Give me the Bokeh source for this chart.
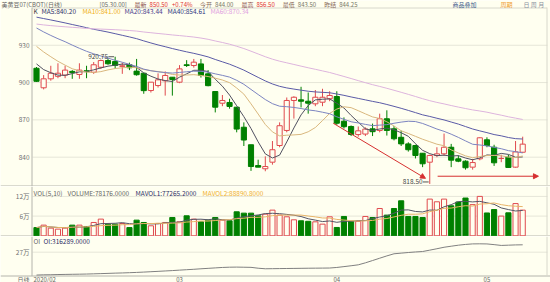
import numpy as np
import pandas as pd
from bokeh.plotting import figure
from bokeh.layouts import column
from bokeh.models import Range1d, Label, Arrow, NormalHead
from bokeh.core.properties import value
from bokeh.embed import file_html
from bokeh.resources import INLINE

# ---- CBOT soybean (July contract), daily bars Feb - May 2020 ----
opens = [911.5, 895.8, 903.0, 905.0, 906.0, 909.0, 906.5, 909.5, 908.3, 912.3,
         917.7, 917.0, 913.0, 914.3, 909.2, 907.5, 893.6, 897.6, 901.4, 904.3,
         900.3, 914.3, 913.7, 915.0, 907.0, 892.8, 883.4, 884.0, 880.2, 864.1,
         850.0, 833.3, 830.7, 836.0, 849.4, 861.5, 885.6, 886.1, 885.0, 882.9,
         884.2, 887.0, 888.8, 868.9, 864.7, 858.2, 858.6, 862.8, 861.5, 870.9,
         862.8, 856.0, 850.7, 849.4, 843.2, 836.0, 841.4, 842.7, 848.0, 838.7,
         836.8, 832.0, 838.7, 854.0, 848.0, 839.0, 840.0, 832.0, 844.0]
highs = [912.5, 906.0, 913.5, 915.5, 913.5, 910.0, 915.5, 913.5, 916.5, 918.5,
         919.5, 920.75, 916.0, 916.0, 919.0, 907.5, 900.3, 907.4, 909.0, 904.3,
         914.0, 918.0, 919.0, 919.0, 910.0, 892.8, 890.0, 887.0, 880.2, 868.0,
         850.0, 838.0, 840.7, 853.0, 868.0, 888.0, 889.0, 896.6, 892.0, 894.0,
         895.0, 893.0, 893.0, 872.0, 865.5, 864.7, 864.0, 867.0, 875.0, 877.7,
         865.0, 861.4, 852.0, 850.0, 843.2, 842.0, 848.0, 859.0, 850.7, 841.4,
         837.5, 838.6, 856.0, 856.0, 850.0, 842.0, 842.0, 853.0, 856.5]
lows = [900.5, 894.5, 901.5, 903.5, 903.5, 903.0, 903.0, 903.5, 907.0, 911.0,
        914.3, 911.0, 907.0, 910.0, 905.5, 891.0, 892.0, 896.0, 889.5, 889.5,
        899.5, 912.5, 912.0, 904.0, 897.0, 876.0, 881.0, 879.0, 860.0, 849.0,
        829.0, 832.0, 828.7, 834.0, 848.0, 860.0, 871.0, 880.0, 875.0, 881.0,
        881.0, 885.0, 866.0, 863.0, 857.0, 856.5, 857.0, 857.0, 860.0, 857.4,
        853.5, 849.0, 844.5, 839.0, 832.0, 818.5, 840.0, 841.0, 832.0, 836.0,
        830.0, 830.0, 837.5, 848.0, 833.0, 836.0, 831.5, 831.5, 843.5]
closes = [901.0, 903.0, 907.5, 907.5, 910.0, 908.0, 910.0, 908.8, 914.3, 917.7,
          915.1, 913.8, 913.5, 911.9, 906.3, 893.5, 900.3, 902.2, 905.7, 902.5,
          911.0, 913.7, 916.4, 905.7, 897.5, 880.2, 885.6, 880.8, 862.6, 853.8,
          832.5, 832.0, 832.5, 846.0, 865.3, 885.6, 888.2, 885.0, 883.4, 888.2,
          888.2, 889.6, 867.3, 864.5, 858.3, 861.2, 862.6, 860.5, 870.9, 861.5,
          854.8, 850.7, 846.0, 841.4, 834.7, 841.4, 842.7, 848.0, 837.6, 836.8,
          831.5, 835.7, 855.6, 849.4, 835.5, 839.0, 831.75, 844.25, 850.5]
volumes = [25000, 32500, 23400, 20300, 23400, 32500, 32500, 28400, 40600, 50800,
           35500, 35500, 37600, 25000, 47700, 40600, 30500, 37600, 40600, 55800,
           42600, 60900, 50800, 42600, 47700, 55800, 47700, 45700, 73100, 69000,
           69000, 60900, 66000, 78200, 63000, 57900, 48700, 45700, 44200, 42600,
           35500, 57900, 25400, 58900, 44200, 44200, 58900, 55800, 83200, 63000,
           83200, 106600, 58900, 58900, 55800, 111800, 103600, 111800, 91400, 103000,
           115000, 95000, 120000, 69582, 80000, 60000, 70000, 98150, 78176]
open_interest = [127000, 128500, 129000, 130200, 131000, 131800, 132500, 133400, 134600, 136000,
                 137500, 139000, 140200, 141800, 143500, 145600, 147900, 150200, 152600, 155000,
                 157800, 160500, 163100, 166200, 169000, 171800, 174500, 176200, 176800, 176000,
                 175200, 169800, 166300, 166900, 167500, 168100, 168600, 169200, 169700, 170100,
                 170500, 171000, 174500, 179800, 185200, 191000, 203500, 217800, 232400, 246900,
                 260100, 264200, 268000, 271500, 274200, 282800, 291600, 300900, 307500, 313800,
                 318600, 321900, 322400, 321700, 317300, 312400, 313900, 315600, 316289]
# closes before the first bar, so the moving averages start at the left edge
prior_closes = [944, 941, 938, 936, 933, 935, 937, 934, 931, 929,
                930, 933, 931, 934, 937, 936, 938, 940, 939, 942,
                948, 952, 955, 958, 960, 959, 962, 964, 963, 961,
                965, 966, 964, 962, 965, 967, 966, 962,
                962, 965, 966, 964, 960, 958, 963, 961, 957, 955,
                952, 950, 948, 946, 944, 941, 937, 926, 920, 917, 911]
month_labels = ["03", "04", "05"]
month_start = [20, 42, 63]
price_ticks = [840, 870, 900, 930]
vol_ticks = [60000, 120000]
vol_tick_labels = ["6万", "12万"]
oi_ticks = [270000]
oi_tick_labels = ["27万"]
ma_windows = [5, 10, 20, 40, 60]

BG = "#FFFFF0"
UP = "#E04A4E"
DOWN = "#008000"
ARROW_RED = "#D63030"
FONT = "Noto Sans CJK SC"
GRAY = "#666666"
NAVY = "#2E2E66"
RULE = "#B4B4AC"
GRID = "#E6E6D8"
MA_LINE = {5: "#505060", 10: "#D9B77E", 20: "#7C84C0", 40: "#5A5AA6", 60: "#DDB4DD"}
MA_TEXT = {5: "#2E2E66", 10: "#F0B020", 20: "#4A3C8C", 40: "#2E3580", 60: "#E0A0E0"}

n = len(closes)
x = np.arange(n)
o, h, l, c = (np.array(a, dtype=float) for a in (opens, highs, lows, closes))
up = c >= o
edge = np.where(up, UP, DOWN).tolist()
fill = np.where(up, BG, DOWN).tolist()

full_close = pd.Series(prior_closes + closes, dtype=float)
ma = {k: full_close.rolling(k).mean().to_numpy()[len(prior_closes):] for k in ma_windows}
vol = pd.Series(volumes, dtype=float)
mavol = {k: vol.rolling(k, min_periods=1).mean().to_numpy() for k in (5, 10)}

# ---- page geometry (pixels) ----
W = 550
BAR_X0, BAR_STEP = 36.0, 7.15          # first bar centre and bar spacing
AX_L, AX_R = 31.5, 546.5               # left axis line and right edge of the panels


def gx(px):
    return (px - BAR_X0) / BAR_STEP


xr = Range1d(gx(0), gx(W))


def panel(top, height, y_at):
    """A full-width figure covering page rows top..top+height; y_at maps a page row to data."""
    p = figure(frame_width=W, frame_height=height, x_range=xr,
               y_range=Range1d(y_at(top + height), y_at(top)),
               output_backend="svg", toolbar_location=None,
               x_axis_location=None, y_axis_location=None, min_border=0,
               background_fill_color=BG, border_fill_color=BG, outline_line_color=None)
    p.grid.grid_line_color = None
    p._top, p._h, p._yat = top, height, y_at
    return p


def put(p, px, py, text, color, size="6.5px", align="left"):
    p.add_layout(Label(x=px, y=p._h - (py - p._top), x_units="screen", y_units="screen",
                       text=text, text_color=color, text_font=FONT, text_font_size=size,
                       text_align=align, text_baseline="middle"))


def text_width(s, size):
    # rough advance widths for the sans font at the given pixel size
    w = 0.0
    for ch in s:
        if ord(ch) > 0x2e80:
            w += 1.0
        elif ch in ".:":
            w += 0.26
        elif ch in "[]()":
            w += 0.32
        elif ch == "%":
            w += 0.85
        else:
            w += 0.56
    return w * size


def hrule(p, py, x0=0, x1=W, color=RULE):
    p.segment(x0=[gx(x0)], x1=[gx(x1)], y0=[p._yat(py)], y1=[p._yat(py)],
              line_color=color, line_width=1)


def vrule(p, px, py0, py1, color=RULE):
    p.segment(x0=[gx(px)], x1=[gx(px)], y0=[p._yat(py0)], y1=[p._yat(py1)],
              line_color=color, line_width=1)


def y_axis(p, ticks, labels):
    p.segment(x0=[gx(32)] * len(ticks), x1=[gx(547)] * len(ticks), y0=ticks, y1=ticks,
              line_color=GRID, line_width=1)
    p.text(x=[gx(29)] * len(ticks), y=ticks, text=labels, text_font=value(FONT),
           text_font_size="6.5px", text_color="#707070", text_align="right",
           text_baseline="middle")


# ---- price panel with quote bar on top: page rows 0..186 ----
p1 = panel(0, 186, lambda py: 840 + (156.7 - py) / 1.244)
y_axis(p1, price_ticks, [str(t) for t in price_ticks])
hrule(p1, 7.5, AX_L, AX_R, color="#D8D8CC")
hrule(p1, 185.5)
vrule(p1, AX_L, 7, 186)
vrule(p1, AX_R, 7, 186, color="#D8D8CC")

p1.segment(x0=x, y0=l, x1=x, y1=h, line_color=edge, line_width=1)
p1.vbar(x=x, width=0.72, top=np.maximum(o, c), bottom=np.minimum(o, c),
        fill_color=fill, line_color=edge, line_width=1)
for k in ma_windows:
    p1.line(x, ma[k], line_color=MA_LINE[k], line_width=1)

# extreme price marks
hi_i = int(np.argmax(h))
lo_i = int(np.argmin(l))
for i, yv, lift in [(hi_i, h[hi_i], 0.0), (lo_i, l[lo_i], 1.6)]:
    p1.segment(x0=[i - 0.95], y0=[yv + lift], x1=[i - 0.15], y1=[yv + lift],
               line_color="#555555", line_width=1)
    p1.add_layout(Label(x=i - 1.0, y=yv + lift, text=f"{yv:.2f}", text_color="#444444",
                        text_font=FONT, text_font_size="6.5px", text_align="right",
                        text_baseline="middle"))

# trend arrows
p1.add_layout(Arrow(end=NormalHead(size=5, fill_color=ARROW_RED, line_color=ARROW_RED),
                    x_start=41.5, y_start=c[42], x_end=54.4, y_end=823.0,
                    line_color=ARROW_RED, line_width=1))
p1.add_layout(Arrow(end=NormalHead(size=5, fill_color=ARROW_RED, line_color=ARROW_RED),
                    x_start=56.1, y_start=824.7, x_end=70.2, y_end=824.7,
                    line_color=ARROW_RED, line_width=1))

# quote bar: items flow left to right, (text, colour, gap after)
last, prev = c[-1], c[-2]
chg = (last / prev - 1) * 100
QS = 6.0
put(p1, 1, 3.5, "美黄豆07(CBOT)(日线)", GRAY, size="6px")
quote = [("[05.30.00]", GRAY, 8),
         ("最新", "#8A4A4A", 3), (f"{last:.2f}", "#E03030", 4), (f"{chg:+.2f}%", "#E03030", 8),
         ("今开", "#8A6A5A", 3), (f"{o[-1]:.2f}", "#777766", 8),
         ("最高", "#8A4A4A", 3), (f"{h[-1]:.2f}", "#E03030", 8),
         ("最低", "#8A6A5A", 3), (f"{l[-1]:.2f}", "#777766", 8),
         ("昨结", "#8A6A5A", 3), (f"{prev:.2f}", "#777766", 0)]
cursor = 99.0
for t, col, gap in quote:
    put(p1, cursor, 3.5, t, col, size="6px")
    cursor += text_width(t, QS) + gap
put(p1, 452, 3.5, "商品叠加", "#3D5A8A", size="6px")
put(p1, 500, 3.5, "周期", "#F0A030", size="6px")
put(p1, 523, 3.5, "日 周 月", "#8890A0", size="6px")

# moving-average legend
put(p1, 33, 10.5, "K", "#404040")
ma_x = {5: 41, 10: 82, 20: 124, 40: 167, 60: 210}
for k in ma_windows:
    put(p1, ma_x[k], 10.5, f"MA{k}:{ma[k][-1]:.2f}", MA_TEXT[k])

# ---- volume panel: page rows 186..236 ----
p2 = panel(186, 50, lambda py: (235.3 - py) * 3046)
y_axis(p2, vol_ticks, vol_tick_labels)
hrule(p2, 235.5)
vrule(p2, AX_L, 186, 236)
vrule(p2, AX_R, 186, 236, color="#D8D8CC")
p2.vbar(x=x, width=0.72, top=volumes, bottom=0, fill_color=fill, line_color=edge, line_width=1)
p2.line(x, mavol[5], line_color="#555566", line_width=1)
p2.line(x, mavol[10], line_color="#E8B468", line_width=1)
put(p2, 33, 192, "VOL(5,10)", GRAY)
put(p2, 67, 192, f"VOLUME:{volumes[-1]:.4f}", GRAY)
put(p2, 135, 192, f"MAVOL1:{mavol[5][-1]:.4f}", NAVY)
put(p2, 202, 192, f"MAVOL2:{mavol[10][-1]:.4f}", "#F0B030")

# ---- open interest panel with date row below: page rows 236..282 ----
p3 = panel(236, 46, lambda py: 270000 + (251.7 - py) * 6256)
y_axis(p3, oi_ticks, oi_tick_labels)
hrule(p3, 275.5)
vrule(p3, AX_L, 236, 275.5)
vrule(p3, AX_R, 236, 275.5, color="#D8D8CC")
p3.line(x, open_interest, line_color="#808080", line_width=1)
put(p3, 33, 240, "OI", GRAY)
put(p3, 43, 240, f"OI:{open_interest[-1]:.4f}", NAVY)
put(p3, 17, 278.5, "日线", GRAY, size="6px")
put(p3, 33, 278.5, "2020/02", GRAY, size="6px")
p3.text(x=month_start, y=[p3._yat(278.5)] * len(month_start), text=month_labels,
        text_font=value(FONT), text_font_size="6px", text_color=GRAY,
        text_align="center", text_baseline="middle")

layout = column(p1, p2, p3, spacing=0)
open("out.html", "w").write(file_html(layout, INLINE))
